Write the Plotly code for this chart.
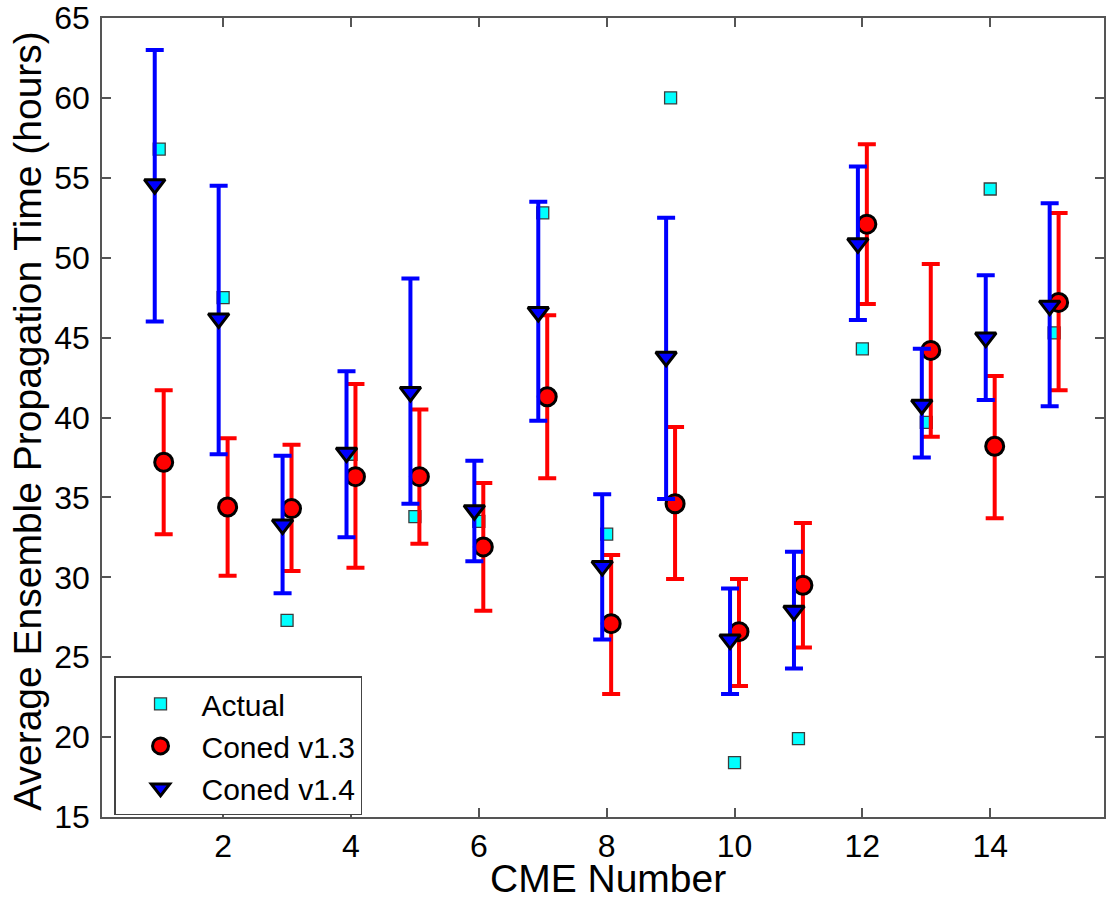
import plotly.graph_objects as go

cme = list(range(1, 16))
actual = [56.8, 47.5, 27.3, 37.7, 33.8, 33.5, 52.8, 32.7, 60.0, 18.4, 19.9, 44.3, 39.7, 54.3, 45.3]
v13 = [37.2, 34.4, 34.3, 36.3, 36.3, 31.9, 41.3, 27.1, 34.6, 26.6, 29.5, 52.1, 44.2, 38.2, 47.2]
v13_hi = [41.7, 38.7, 38.3, 42.1, 40.5, 35.9, 46.4, 31.4, 39.4, 29.9, 33.4, 57.1, 49.6, 42.6, 52.8]
v13_lo = [32.7, 30.1, 30.4, 30.6, 32.1, 27.9, 36.2, 22.7, 29.9, 23.2, 25.6, 47.1, 38.8, 33.7, 41.7]
v14 = [54.6, 46.2, 33.3, 37.8, 41.6, 34.2, 46.6, 30.7, 43.8, 26.1, 27.9, 50.9, 40.8, 45.0, 47.0]
v14_hi = [63.0, 54.5, 37.6, 42.9, 48.7, 37.3, 53.5, 35.2, 52.5, 29.3, 31.6, 55.7, 44.3, 48.9, 53.4]
v14_lo = [46.0, 37.7, 29.0, 32.5, 34.6, 31.0, 39.8, 26.1, 34.9, 22.7, 24.3, 46.1, 37.5, 41.1, 40.7]
x_ticks = [2, 4, 6, 8, 10, 12, 14]
y_ticks = [15, 20, 25, 30, 35, 40, 45, 50, 55, 60, 65]
x_title = "CME Number"
y_title = "Average Ensemble Propagation Time (hours)"

offset = 0.07
x13 = [c + offset for c in cme]
x14 = [c - offset for c in cme]

FONT = "Liberation Sans, Arial, sans-serif"
AX = "#555555"

fig = go.Figure()
fig.add_trace(go.Scatter(
    x=cme, y=actual, mode="markers", name="Actual",
    marker=dict(symbol="square", size=12, color="#00FFFF",
                line=dict(color="#3c3c3c", width=1.3)),
))
fig.add_trace(go.Scatter(
    x=x13, y=v13, mode="markers", name="Coned v1.3",
    marker=dict(symbol="circle", size=18, color="#FF0000",
                line=dict(color="black", width=3)),
    error_y=dict(type="data", symmetric=False,
                 array=[h - v for h, v in zip(v13_hi, v13)],
                 arrayminus=[v - l for l, v in zip(v13_lo, v13)],
                 color="#FF0000", thickness=4, width=9),
))
fig.add_trace(go.Scatter(
    x=x14, y=v14, mode="markers", name="Coned v1.4",
    marker=dict(symbol="triangle-down", size=18, color="#0000FF",
                line=dict(color="black", width=3)),
    error_y=dict(type="data", symmetric=False,
                 array=[h - v for h, v in zip(v14_hi, v14)],
                 arrayminus=[v - l for l, v in zip(v14_lo, v14)],
                 color="#0000FF", thickness=4, width=9),
))

fig.update_layout(
    width=1106, height=898,
    margin=dict(l=102, r=0, t=17, b=81),
    paper_bgcolor="white", plot_bgcolor="white",
    font=dict(family=FONT, color="black", size=30),
    showlegend=True,
    legend=dict(
        x=0.012, y=0.089, xanchor="left", yanchor="middle",
        bgcolor="white", bordercolor="#444444", borderwidth=1.5,
        font=dict(size=30, family=FONT, color="black"),
        itemwidth=72, indentation=4,
        tracegroupgap=0,
    ),
    xaxis=dict(
        range=[0.105, 15.78], tickvals=x_ticks, ticktext=[str(t) for t in x_ticks],
        showgrid=False, zeroline=False,
        showline=True, linecolor=AX, linewidth=1.5, mirror="ticks",
        ticks="inside", ticklen=9, tickwidth=1.5, tickcolor=AX,
        tickfont=dict(size=32, family=FONT, color="black"),
        ticklabelstandoff=0, ticklabeloverflow="allow",
    ),
    yaxis=dict(
        range=[15, 65], tickvals=y_ticks, ticktext=[str(t) for t in y_ticks],
        showgrid=False, zeroline=False,
        showline=True, linecolor=AX, linewidth=1.5, mirror="ticks",
        ticks="inside", ticklen=9, tickwidth=1.5, tickcolor=AX,
        tickfont=dict(size=32, family=FONT, color="black"),
        ticklabelstandoff=4, ticklabeloverflow="allow",
    ),
    annotations=[
        dict(text=x_title, xref="paper", yref="paper", x=0.505, y=-0.0775,
             xanchor="center", yanchor="middle", showarrow=False,
             font=dict(size=39, family=FONT, color="black")),
        dict(text=y_title, xref="paper", yref="paper", x=-0.0737, y=0.496,
             xanchor="center", yanchor="middle", showarrow=False, textangle=-90,
             font=dict(size=39, family=FONT, color="black")),
    ],
)

fig.write_html("out.html", include_plotlyjs=True,
               config={"displayModeBar": False},
               post_script="document.body.style.margin='0';document.body.style.overflow='hidden';")
